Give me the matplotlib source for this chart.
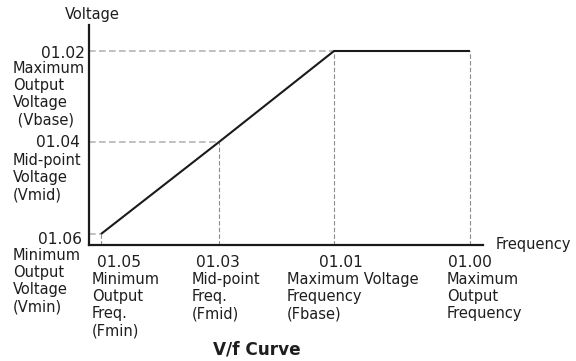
import matplotlib
matplotlib.use("Agg")
import matplotlib.pyplot as plt

# V/f curve points (frequency position, voltage position), arbitrary units
freq_names = ["01.05", "01.03", "01.01", "01.00"]
freq_desc = ["Minimum\nOutput\nFreq.\n(Fmin)",
             "Mid-point\nFreq.\n(Fmid)",
             "Maximum Voltage\nFrequency\n(Fbase)",
             "Maximum\nOutput\nFrequency"]
freq_pos = [12, 130, 245, 381]

volt_names = ["01.06", "01.04", "01.02"]
volt_desc = ["Minimum\nOutput\nVoltage\n(Vmin)",
             "Mid-point\nVoltage\n(Vmid)",
             "Maximum\nOutput\nVoltage\n (Vbase)"]
volt_pos = [11, 103, 194]

curve_f = [12, 130, 245, 381]
curve_v = [11, 103, 194, 194]

W, H = 576, 361
fig = plt.figure(figsize=(W / 100, H / 100), dpi=100)
plt.rcParams['font.family'] = 'DejaVu Sans'

def px(x, y):
    return x / W, 1 - y / H

ax = fig.add_axes([89 / W, 1 - 245 / H, (483 - 89) / W, (245 - 25) / H])
ax.set_xlim(0, 394)
ax.set_ylim(0, 220)
ax.set_xticks([])
ax.set_yticks([])
for s in ['top', 'right']:
    ax.spines[s].set_visible(False)
for s in ['left', 'bottom']:
    ax.spines[s].set_linewidth(1.6)
    ax.spines[s].set_color('#1a1a1a')

# guide lines
for f, v in zip(curve_f[:3], curve_v[:3]):
    ax.plot([0, f], [v, v], color='#b5b5b5', lw=1.2, dashes=(4, 2), clip_on=False)
for f, v in zip(curve_f, curve_v):
    ax.plot([f, f], [0, v], color='#8c8c8c', lw=0.8, dashes=(4, 2), clip_on=False)

ax.plot(curve_f, curve_v, color='#1a1a1a', lw=1.5, clip_on=False, solid_capstyle='butt')

num_fs = 11.2
lab_fs = 10.5
tc = '#1e1e1e'

# y side labels
fig.text(*px(92, 15), "Voltage", fontsize=lab_fs, ha='center', va='center', color=tc)
num_right = [82, 80, 85]
num_y = [239, 142.5, 54]
desc_top = [248, 153, 61]
for name, desc, xr, yc, yt in zip(volt_names, volt_desc, num_right, num_y, desc_top):
    fig.text(*px(xr, yc), name, fontsize=num_fs, ha='right', va='center', color=tc)
    fig.text(*px(13, yt), desc, fontsize=lab_fs, ha='left', va='top', linespacing=1.18, color=tc)

# x side labels
num_left = [97, 196, 319, 448]
desc_left = [92, 192, 287, 447]
for name, desc, xl, dl in zip(freq_names, freq_desc, num_left, desc_left):
    fig.text(*px(xl, 255), name, fontsize=num_fs, ha='left', va='top', color=tc)
    fig.text(*px(dl, 272), desc, fontsize=lab_fs, ha='left', va='top', linespacing=1.18, color=tc)

fig.text(*px(496, 245), "Frequency", fontsize=lab_fs, ha='left', va='center', color=tc)
fig.text(*px(257, 350), "V/f Curve", fontsize=12.2, fontweight='bold', ha='center', va='center', color=tc)

fig.savefig("out.png", dpi=100)
